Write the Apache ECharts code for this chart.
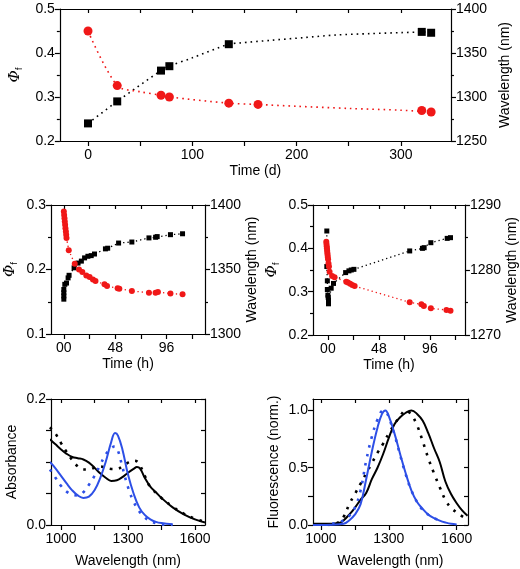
<!DOCTYPE html>
<html><head><meta charset="utf-8">
<script src="https://cdn.jsdelivr.net/npm/echarts@6/dist/echarts.min.js"></script>
<style>html,body{margin:0;padding:0;background:#fff}#c{width:520px;height:569px}</style>
</head><body><div id="c"></div>
<script>
// ---- Top panel (time in days) ----
var topTimeBlack = [0, 28, 70, 78, 135, 320, 329];
var topPhiBlack = [0.24, 0.29, 0.36, 0.37, 0.42, 0.448, 0.446];
var topTimeRed = [0, 28, 70, 78, 135, 163, 320, 329];
var topWlRed = [1375, 1313, 1302, 1300, 1293, 1291.6, 1284.7, 1283];
var topFitBlackT = [0, 28, 70, 78, 100, 135, 145, 176, 207, 238, 270, 301, 329];
var topFitBlackPhi = [0.24, 0.29, 0.36, 0.37, 0.389, 0.42, 0.4226, 0.429, 0.435, 0.441, 0.444, 0.4464, 0.448];
var topFitRedT = [0, 28, 50, 70, 78, 135, 163, 200, 250, 300, 329];
var topFitRedWl = [1375, 1313, 1306, 1302, 1300, 1293, 1291.5, 1289.5, 1287, 1285, 1283];

// ---- Middle-left panel (time in hours) ----
var mlTimeBlack = [0, 0, 0, 0, 0.9, 2.5, 4, 4.9, 9.6, 13.3, 16.4, 19.4, 22.5, 25.6, 28.7, 38.9, 41, 51.2, 63.6, 79.6, 85.8, 87.3, 99.7, 111];
var mlPhiBlack = [0.154, 0.159, 0.164, 0.169, 0.177, 0.179, 0.187, 0.191, 0.2026, 0.210, 0.213, 0.218, 0.2205, 0.2215, 0.224, 0.232, 0.233, 0.241, 0.2426, 0.249, 0.250, 0.251, 0.254, 0.2554];
var mlTimeRed = [0, 0.3, 0.6, 0.9, 1.2, 1.5, 1.9, 2.2, 2.5, 4.6, 10.2, 14.2, 17.3, 21, 24.1, 27.2, 29.6, 38, 40.4, 50.3, 51.9, 63.6, 79.6, 85.8, 88, 99.7, 111];
var mlWlRed = [1394.9, 1392.3, 1389.7, 1387.2, 1384.6, 1382, 1379.5, 1376.9, 1374.4, 1364.9, 1354.4, 1350, 1348, 1345.4, 1344.1, 1342.3, 1341, 1338.5, 1337.2, 1335.4, 1335.1, 1333.3, 1332, 1332, 1332.6, 1331.3, 1330.8];

// ---- Middle-right panel ----
var mrTimeBlack = [-1, -1, -0.5, -0.5, 0, 0.3, 0.6, 0.6, 0.6, 3.1, 5.3, 16.7, 19.8, 22, 24.5, 77, 89, 90.6, 96.9, 112.3, 115.4];
var mrPhiBlack = [0.44, 0.358, 0.325, 0.305, 0.292, 0.287, 0.281, 0.275, 0.272, 0.308, 0.319, 0.344, 0.348, 0.35, 0.3515, 0.394, 0.40, 0.4015, 0.413, 0.423, 0.4246];
var mrTimeRed = [-1.5, -1.3, -1.1, -0.9, -0.7, -0.5, -0.3, -0.1, 0.2, 0.6, 1, 1.6, 4, 6.3, 17.3, 18.9, 21, 23, 25.2, 77, 88, 90.3, 96.9, 111.6, 115.4];
var mrWlRed = [1284.33, 1284, 1283.67, 1283.33, 1283, 1282.67, 1282.33, 1282, 1281.67, 1281, 1280.53, 1279.73, 1279.07, 1278.87, 1278.2, 1278.07, 1277.87, 1277.69, 1277.53, 1275.03, 1274.73, 1274.47, 1274.1, 1273.85, 1273.73];

// ---- Bottom-left: absorbance ----
var absWl = [950, 975, 1000, 1025, 1050, 1075, 1100, 1125, 1150, 1175, 1200, 1225, 1250, 1275, 1300, 1325, 1340, 1355, 1375, 1400, 1425, 1450, 1500, 1550, 1600, 1645];
var absBlackSolid = [0.136, 0.128, 0.120, 0.113, 0.108, 0.106, 0.104, 0.099, 0.091, 0.082, 0.075, 0.070, 0.071, 0.076, 0.083, 0.089, 0.092, 0.089, 0.075, 0.061, 0.052, 0.043, 0.028, 0.017, 0.009, 0.004];
var absBlackDot = [0.155, 0.145, 0.130, 0.116, 0.103, 0.093, 0.088, 0.088, 0.091, 0.093, 0.091, 0.089, 0.089, 0.093, 0.099, 0.102, 0.101, 0.094, 0.078, 0.060, 0.051, 0.043, 0.029, 0.018, 0.010, 0.005];
var absBlueWl = [950, 975, 1000, 1025, 1050, 1075, 1100, 1125, 1150, 1175, 1200, 1225, 1242, 1255, 1275, 1300, 1325, 1350, 1375, 1400, 1425, 1450, 1500];
var absBlueSolid = [0.100, 0.090, 0.078, 0.066, 0.055, 0.047, 0.043, 0.045, 0.055, 0.074, 0.100, 0.132, 0.146, 0.142, 0.120, 0.080, 0.050, 0.028, 0.016, 0.009, 0.005, 0.003, 0.001];
var absBlueDot = [0.088, 0.075, 0.062, 0.053, 0.048, 0.047, 0.052, 0.064, 0.078, 0.095, 0.112, 0.122, 0.125, 0.118, 0.092, 0.060, 0.037, 0.022, 0.012, 0.006, 0.003, 0.001, 0.0];

// ---- Bottom-right: fluorescence ----
var flBlueWl = [965, 1000, 1050, 1100, 1125, 1150, 1175, 1200, 1225, 1250, 1270, 1285, 1300, 1325, 1350, 1375, 1400, 1425, 1450, 1475, 1500, 1525, 1550, 1575, 1600];
var flBlueSolid = [0, 0, 0.003, 0.01, 0.04, 0.09, 0.18, 0.40, 0.64, 0.85, 0.97, 1.0, 0.95, 0.80, 0.62, 0.45, 0.30, 0.20, 0.14, 0.09, 0.06, 0.038, 0.022, 0.01, 0.005];
var flBlueDotWl = [1050, 1100, 1125, 1150, 1175, 1200, 1225, 1250, 1275, 1290, 1300, 1325, 1350, 1375, 1400, 1425, 1450, 1475, 1500, 1525];
var flBlueDot = [0.01, 0.04, 0.08, 0.15, 0.30, 0.56, 0.77, 0.92, 1.0, 0.98, 0.94, 0.79, 0.61, 0.44, 0.30, 0.20, 0.13, 0.09, 0.06, 0.04];
var flBlackWl = [965, 1000, 1050, 1084, 1100, 1125, 1150, 1175, 1200, 1225, 1250, 1275, 1300, 1325, 1350, 1375, 1400, 1425, 1450, 1475, 1500, 1525, 1550, 1575, 1600, 1625, 1648];
var flBlackSolid = [0.01, 0.01, 0.012, 0.02, 0.04, 0.09, 0.15, 0.22, 0.28, 0.40, 0.50, 0.62, 0.76, 0.88, 0.94, 0.98, 1.0, 0.97, 0.91, 0.80, 0.67, 0.55, 0.38, 0.27, 0.19, 0.125, 0.08];
var flBlackDotWl = [1030, 1050, 1075, 1100, 1125, 1150, 1175, 1200, 1225, 1250, 1275, 1300, 1325, 1350, 1375, 1400, 1425, 1450, 1475, 1500, 1525, 1550, 1575, 1600, 1625, 1648];
var flBlackDot = [0.0, 0.005, 0.02, 0.07, 0.18, 0.27, 0.36, 0.45, 0.54, 0.63, 0.71, 0.80, 0.88, 0.95, 1.0, 0.96, 0.87, 0.73, 0.58, 0.45, 0.33, 0.22, 0.15, 0.11, 0.075, 0.05];

// ---- Tick values ----
var topXTicks = [0, 50, 100, 150, 200, 250, 300];
var topXLabels = [0, 100, 200, 300];
var hTicks = [0, 24, 48, 72, 96, 120];
var hLabels = [0, 48, 96];
var wlTicks = [1000, 1150, 1300, 1450, 1600];
var wlLabels = [1000, 1300, 1600];
var flYTicks = [0, 0.25, 0.5, 0.75, 1.0];
var flYLabels = [0, 0.5, 1.0];

var F = 'Liberation Sans, Arial, sans-serif';
var RED = '#f01818', BLUE = '#2d4fe6', BLK = '#000';
function pts(xs, ys) { return xs.map(function (x, i) { return [x, ys[i]]; }); }
var LS = { color: BLK, width: 1.2 };
var TXT = { color: BLK, fontSize: 14, fontFamily: F };
var phiName = '{a|Φ}{b|f}';
var phiRich = { a: { fontStyle: 'italic', fontSize: 15, fontFamily: 'DejaVu Serif, serif' }, b: { fontSize: 9, fontFamily: F, padding: [9, 0, 0, 0] } };
var plain = function (v) { return String(+(+v).toFixed(6)); };

function xBottom(g, min, max, ticks, labels, name, fmt, gap) {
  return { type: 'value', gridIndex: g, position: 'bottom', min: min, max: max,
    splitLine: { show: false },
    axisLine: { show: true, onZero: false, lineStyle: LS },
    axisTick: { show: true, inside: false, length: 5, customValues: ticks, lineStyle: LS },
    axisLabel: Object.assign({ customValues: labels, margin: 7, formatter: fmt || plain }, TXT),
    name: name, nameLocation: 'middle', nameGap: gap, nameTextStyle: TXT };
}
function xTop(g, min, max, ticks) {
  return { type: 'value', gridIndex: g, position: 'top', min: min, max: max,
    splitLine: { show: false },
    axisLine: { show: true, onZero: false, lineStyle: LS },
    axisTick: { show: true, inside: true, length: 4, customValues: ticks, lineStyle: LS },
    axisLabel: { show: false } };
}
function yAx(g, pos, min, max, interval, name, nameGap, rich, fmt) {
  var o = { type: 'value', gridIndex: g, position: pos, min: min, max: max, interval: interval,
    splitLine: { show: false },
    axisLine: { show: true, onZero: false, lineStyle: LS },
    axisTick: { show: true, inside: false, length: 5, lineStyle: LS },
    minorTick: { show: true, splitNumber: 2, length: 3, lineStyle: LS },
    axisLabel: Object.assign({ margin: 5, formatter: fmt || plain }, TXT),
    name: name, nameLocation: 'middle', nameRotate: 90, nameGap: nameGap,
    nameTextStyle: Object.assign({}, TXT, rich ? { rich: rich } : {}) };
  return o;
}
function yMirror(g, min, max, ticks) {
  return { type: 'value', gridIndex: g, position: 'right', min: min, max: max,
    splitLine: { show: false },
    axisLine: { show: true, onZero: false, lineStyle: LS },
    axisTick: { show: true, inside: true, length: 4, customValues: ticks, lineStyle: LS },
    axisLabel: { show: false } };
}

var hFmt = function (v) { return v === 0 ? '00' : String(v); };
var f1 = function (v) { return (+v).toFixed(1); };

var option = {
  animation: false,
  backgroundColor: '#fff',
  grid: [
    { left: 52, top: 9, width: 403, height: 132 },
    { left: 51, top: 205, width: 154, height: 129 },
    { left: 313, top: 205, width: 152, height: 130 },
    { left: 51, top: 399, width: 154, height: 131 },
    { left: 313, top: 399, width: 155, height: 131 }
  ],
  xAxis: [
    xBottom(0, -27, 348, topXTicks, topXLabels, 'Time (d)', null, 23),
    xTop(0, -27, 348, topXTicks),
    xBottom(1, -12, 132, hTicks, hLabels, 'Time (h)', hFmt, 23),
    xTop(1, -12, 132, hTicks),
    xBottom(2, -14, 129, hTicks, hLabels, 'Time (h)', hFmt, 23),
    xTop(2, -14, 129, hTicks),
    xBottom(3, 955, 1645, wlTicks, wlLabels, 'Wavelength (nm)', null, 29),
    xTop(3, 955, 1645, wlTicks),
    xBottom(4, 965, 1650, wlTicks, wlLabels, 'Wavelength (nm)', null, 29),
    xTop(4, 965, 1650, wlTicks)
  ],
  yAxis: [
    yAx(0, 'left', 0.2, 0.5, 0.1, phiName, 32, phiRich),
    yAx(0, 'right', 1250, 1400, 50, 'Wavelength (nm)', 46),
    yAx(1, 'left', 0.1, 0.3, 0.1, phiName, 32, phiRich),
    yAx(1, 'right', 1300, 1400, 50, 'Wavelength (nm)', 40),
    yAx(2, 'left', 0.2, 0.5, 0.1, phiName, 32, phiRich),
    yAx(2, 'right', 1270, 1290, 10, 'Wavelength (nm)', 40),
    (function () { var a = yAx(3, 'left', 0, 0.2, 0.05, 'Absorbance', 32, null, function (v) { return (Math.abs(v) < 1e-9 || Math.abs(v - 0.2) < 1e-9) ? (+v).toFixed(1) : ''; }); a.minorTick.show = false; return a; })(),
    yMirror(3, 0, 0.2, [0, 0.05, 0.1, 0.15, 0.2]),
    (function () { var a = yAx(4, 'left', 0, 1.1, null, 'Fluorescence (norm.)', 32, null, f1); delete a.interval; a.minorTick.show = false; a.axisTick.customValues = flYTicks; a.axisLabel.customValues = flYLabels; return a; })(),
    yMirror(4, 0, 1.1, flYTicks)
  ],
  series: [
    // top
    { type: 'line', xAxisIndex: 0, yAxisIndex: 0, data: pts(topFitBlackT, topFitBlackPhi), smooth: 0.3, showSymbol: false, silent: true, z: 1, lineStyle: { color: BLK, width: 1.6, type: [1.6, 4] } },
    { type: 'line', xAxisIndex: 0, yAxisIndex: 1, data: pts(topFitRedT, topFitRedWl), smooth: 0.3, showSymbol: false, silent: true, z: 1, lineStyle: { color: RED, width: 1.6, type: [1.6, 4] } },
    { type: 'scatter', xAxisIndex: 0, yAxisIndex: 0, data: pts(topTimeBlack, topPhiBlack), symbol: 'rect', symbolSize: 8, itemStyle: { color: BLK, opacity: 1 }, z: 3 },
    { type: 'scatter', xAxisIndex: 0, yAxisIndex: 1, data: pts(topTimeRed, topWlRed), symbol: 'circle', symbolSize: 9, itemStyle: { color: RED, opacity: 1 }, z: 3 },
    // middle-left
    { type: 'line', xAxisIndex: 2, yAxisIndex: 2, data: pts(mlTimeBlack, mlPhiBlack), showSymbol: false, silent: true, z: 1, lineStyle: { color: BLK, width: 1.3, type: [1.3, 3] } },
    { type: 'line', xAxisIndex: 2, yAxisIndex: 3, data: pts(mlTimeRed, mlWlRed), showSymbol: false, silent: true, z: 1, lineStyle: { color: RED, width: 1.3, type: [1.3, 3] } },
    { type: 'scatter', xAxisIndex: 2, yAxisIndex: 2, data: pts(mlTimeBlack, mlPhiBlack), symbol: 'rect', symbolSize: 5, itemStyle: { color: BLK, opacity: 1 }, z: 3 },
    { type: 'scatter', xAxisIndex: 2, yAxisIndex: 3, data: pts(mlTimeRed, mlWlRed), symbol: 'circle', symbolSize: 6, itemStyle: { color: RED, opacity: 1 }, z: 3 },
    // middle-right
    { type: 'line', xAxisIndex: 4, yAxisIndex: 4, data: pts(mrTimeBlack, mrPhiBlack), showSymbol: false, silent: true, z: 1, lineStyle: { color: BLK, width: 1.3, type: [1.3, 3] } },
    { type: 'line', xAxisIndex: 4, yAxisIndex: 5, data: pts(mrTimeRed, mrWlRed), showSymbol: false, silent: true, z: 1, lineStyle: { color: RED, width: 1.3, type: [1.3, 3] } },
    { type: 'scatter', xAxisIndex: 4, yAxisIndex: 4, data: pts(mrTimeBlack, mrPhiBlack), symbol: 'rect', symbolSize: 5, itemStyle: { color: BLK, opacity: 1 }, z: 3 },
    { type: 'scatter', xAxisIndex: 4, yAxisIndex: 5, data: pts(mrTimeRed, mrWlRed), symbol: 'circle', symbolSize: 6, itemStyle: { color: RED, opacity: 1 }, z: 3 },
    // bottom-left absorbance
    { type: 'line', xAxisIndex: 6, yAxisIndex: 6, data: pts(absWl, absBlackSolid), smooth: 0.4, showSymbol: false, silent: true, lineStyle: { color: BLK, width: 2 } },
    { type: 'line', xAxisIndex: 6, yAxisIndex: 6, data: pts(absWl, absBlackDot), smooth: 0.4, showSymbol: false, silent: true, lineStyle: { color: BLK, width: 2.6, type: [2.6, 6.5] } },
    { type: 'line', xAxisIndex: 6, yAxisIndex: 6, data: pts(absBlueWl, absBlueSolid), smooth: 0.4, showSymbol: false, silent: true, lineStyle: { color: BLUE, width: 2 } },
    { type: 'line', xAxisIndex: 6, yAxisIndex: 6, data: pts(absBlueWl, absBlueDot), smooth: 0.4, showSymbol: false, silent: true, lineStyle: { color: BLUE, width: 2.6, type: [2.6, 6.5] } },
    // bottom-right fluorescence
    { type: 'line', xAxisIndex: 8, yAxisIndex: 8, data: pts(flBlackWl, flBlackSolid), smooth: 0.4, showSymbol: false, silent: true, lineStyle: { color: BLK, width: 2 } },
    { type: 'line', xAxisIndex: 8, yAxisIndex: 8, data: pts(flBlackDotWl, flBlackDot), smooth: 0.4, showSymbol: false, silent: true, lineStyle: { color: BLK, width: 2.6, type: [2.6, 6.5] } },
    { type: 'line', xAxisIndex: 8, yAxisIndex: 8, data: pts(flBlueWl, flBlueSolid), smooth: 0.4, showSymbol: false, silent: true, lineStyle: { color: BLUE, width: 2 } },
    { type: 'line', xAxisIndex: 8, yAxisIndex: 8, data: pts(flBlueDotWl, flBlueDot), smooth: 0.4, showSymbol: false, silent: true, lineStyle: { color: BLUE, width: 2.6, type: [2.6, 6.5] } }
  ]
};
var chart = echarts.init(document.getElementById('c'), null, { renderer: 'canvas' });
chart.setOption(option);
</script></body></html>
